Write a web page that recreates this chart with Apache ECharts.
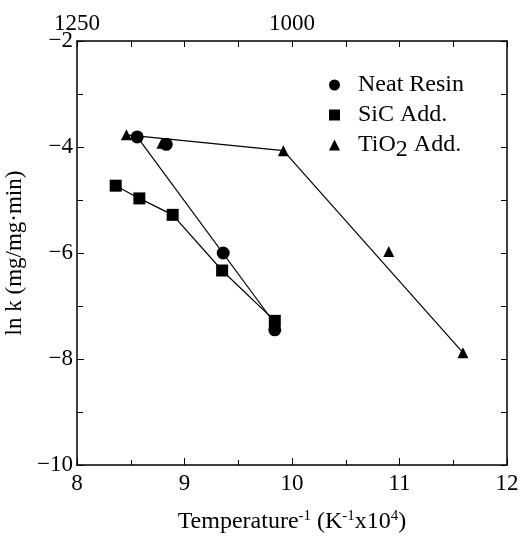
<!DOCTYPE html>
<html>
<head>
<meta charset="utf-8">
<script src="https://cdn.jsdelivr.net/npm/echarts@6/dist/echarts.min.js"></script>
<style>
  html, body { margin: 0; padding: 0; background: #fff; }
  #chart { width: 526px; height: 540px; }
</style>
</head>
<body>
<div id="chart"></div>
<script>
var FONT = '"Liberation Serif", "DejaVu Serif", serif';

// measured points (1/T x1e4, ln k)
var neatX = [8.56, 8.83, 9.36, 9.84];
var neatY = [-3.81, -3.95, -6.00, -7.45];
var sicX = [8.36, 8.58, 8.89, 9.35, 9.84];
var sicY = [-4.73, -4.97, -5.28, -6.33, -7.28];
var tioX = [8.46, 8.79, 9.92, 10.90, 11.59];
var tioY = [-3.77, -3.93, -4.07, -5.97, -7.88];

// drawn lines
var neatLineX = [8.56, 9.84];
var neatLineY = [-3.81, -7.33];
var tioLineX = [8.46, 9.92, 11.59];
var tioLineY = [-3.77, -4.07, -7.88];

// top axis: temperature (K) at 1/T positions
var topTicks = {8: '1250', 10: '1000'};

var seriesNames = ['Neat Resin', 'SiC Add.', 'TiO2 Add.'];

function pairs(xs, ys) {
    var out = [];
    for (var i = 0; i < xs.length; i++) out.push([xs[i], ys[i]]);
    return out;
}

var chart = echarts.init(document.getElementById('chart'), null, {renderer: 'canvas'});

var lineStyle = {color: '#000', width: 1.2};
var markStyle = {color: '#000', opacity: 1};

var option = {
    backgroundColor: '#fff',
    animation: false,
    textStyle: {fontFamily: FONT, color: '#000'},
    grid: {left: 77, right: 19, top: 41, bottom: 75, containLabel: false, outerBoundsMode: 'none'},
    legend: {
        orient: 'vertical',
        left: 324,
        top: 68,
        itemGap: 6,
        itemWidth: 11,
        itemHeight: 11,
        data: [
            {name: seriesNames[0], icon: 'circle'},
            {name: seriesNames[1], icon: 'rect'},
            {name: seriesNames[2], icon: 'triangle'}
        ],
        formatter: function (name) {
            if (name === 'TiO2 Add.') return 'TiO{sub|2} Add.';
            return name;
        },
        textStyle: {
            fontFamily: FONT,
            fontSize: 24,
            color: '#000',
            padding: [0, 0, 0, 13],
            rich: {
                sub: {fontFamily: FONT, fontSize: 24, color: '#000', padding: [10, 0, 0, 0]}
            }
        }
    },
    xAxis: [{
        type: 'value',
        min: 8,
        max: 12,
        interval: 1,
        position: 'bottom',
        name: 'Temperature{sup|-1} (K{sup|-1}x10{sup|4})',
        nameLocation: 'middle',
        nameGap: 44,
        nameTextStyle: {
            fontFamily: FONT,
            fontSize: 24,
            color: '#000',
            rich: {
                sup: {fontFamily: FONT, fontSize: 15, color: '#000', padding: [0, 0, 11, 0]}
            }
        },
        axisLine: {lineStyle: {color: '#000', width: 1.5}},
        axisTick: {inside: true, length: 7, lineStyle: {color: '#000'}},
        minorTick: {show: true, splitNumber: 2, length: 5, lineStyle: {color: '#000'}},
        axisLabel: {fontFamily: FONT, fontSize: 23, color: '#000', margin: 7},
        splitLine: {show: false}
    }, {
        type: 'value',
        min: 8,
        max: 12,
        interval: 0.5,
        position: 'top',
        axisLine: {lineStyle: {color: '#000', width: 1.5}},
        axisTick: {inside: true, length: 6, lineStyle: {color: '#000'}},
        axisLabel: {
            fontFamily: FONT, fontSize: 23, color: '#000', margin: 6,
            formatter: function (v) { return topTicks[v] || ''; }
        },
        splitLine: {show: false}
    }],
    yAxis: [{
        type: 'value',
        min: -10,
        max: -2,
        interval: 2,
        position: 'left',
        name: 'ln k (mg/mg·min)',
        nameLocation: 'middle',
        nameGap: 48,
        nameTextStyle: {fontFamily: FONT, fontSize: 23, color: '#000'},
        axisLine: {lineStyle: {color: '#000', width: 1.5}},
        axisTick: {inside: true, length: 7, lineStyle: {color: '#000'}},
        minorTick: {show: true, splitNumber: 2, length: 6, lineStyle: {color: '#000'}},
        axisLabel: {
            fontFamily: FONT, fontSize: 23, color: '#000', margin: 4,
            formatter: function (v) { return String(v).replace('-', '\u2212'); }
        },
        splitLine: {show: false}
    }, {
        type: 'value',
        min: -10,
        max: -2,
        interval: 1,
        position: 'right',
        axisLine: {lineStyle: {color: '#000', width: 1.5}},
        axisTick: {inside: true, length: 6, lineStyle: {color: '#000'}},
        axisLabel: {show: false},
        splitLine: {show: false}
    }],
    series: [
        {
            type: 'line', data: pairs(neatLineX, neatLineY), showSymbol: false,
            symbol: 'none', lineStyle: lineStyle, silent: true, z: 1
        },
        {
            type: 'line', data: pairs(tioLineX, tioLineY), showSymbol: false,
            symbol: 'none', lineStyle: lineStyle, silent: true, z: 1
        },
        {
            type: 'line', data: pairs(sicX, sicY), showSymbol: false,
            symbol: 'none', lineStyle: lineStyle, silent: true, z: 1
        },
        {
            name: seriesNames[0], type: 'scatter', data: pairs(neatX, neatY),
            symbol: 'circle', symbolSize: 13, itemStyle: markStyle, z: 3
        },
        {
            name: seriesNames[1], type: 'scatter', data: pairs(sicX, sicY),
            symbol: 'rect', symbolSize: 12, itemStyle: markStyle, z: 3
        },
        {
            name: seriesNames[2], type: 'scatter', data: pairs(tioX, tioY),
            symbol: 'triangle', symbolSize: 11, itemStyle: markStyle, z: 3
        }
    ]
};

chart.setOption(option);
</script>
</body>
</html>
